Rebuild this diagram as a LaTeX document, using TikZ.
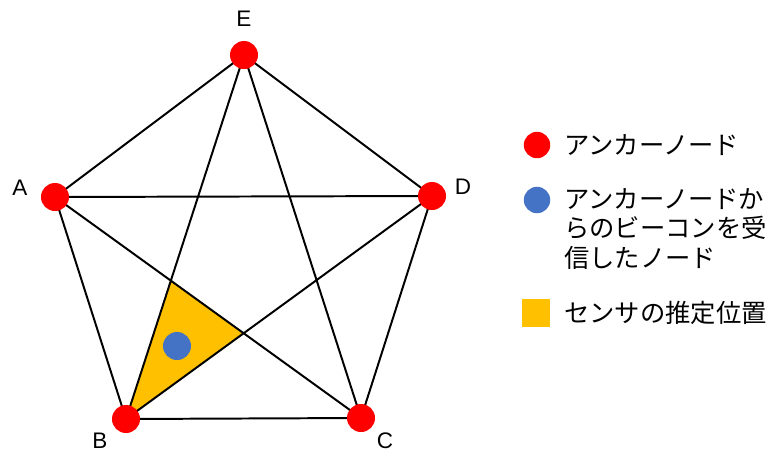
\documentclass[tikz,border=0pt]{standalone}
\usepackage{fontspec}
\setmainfont{Liberation Sans}
\newfontfamily\jpfont{Noto Sans CJK JP}
\usetikzlibrary{positioning}

\definecolor{anchorred}{RGB}{255,0,0}
\definecolor{beaconblue}{RGB}{68,114,196}
\definecolor{estyellow}{RGB}{255,192,0}

\begin{document}
\begin{tikzpicture}[x=0.025cm, y=-0.025cm,
  anchornode/.style={circle, fill=anchorred, minimum size=0.7cm, inner sep=0pt},
  beaconnode/.style={circle, fill=beaconblue, minimum size=0.7cm, inner sep=0pt},
  link/.style={line width=1.4pt, black},
  letter/.style={font=\fontsize{16}{19}\selectfont, inner sep=0pt},
  keytext/.style={font=\jpfont\fontsize{18}{20.8}\selectfont, anchor=west, align=left, inner sep=0pt}]
\useasboundingbox (0,0) rectangle (770,455);
% anchor positions
\coordinate (A) at (55,197);
\coordinate (B) at (126,419);
\coordinate (C) at (361,418);
\coordinate (D) at (432,196);
\coordinate (E) at (244,55);
% estimated sensor area
\fill[estyellow] (B) -- (intersection of E--B and A--C) -- (intersection of B--D and A--C) -- cycle;
% links between all anchors
\draw[link] (A) -- (E) -- (D) -- (C) -- (B) -- (A);
\draw[link] (A) -- (D) (A) -- (C) (E) -- (B) (E) -- (C) (B) -- (D);
% anchor nodes
\foreach \n in {A,B,C,D,E}
  \node[anchornode] (n\n) at (\n) {};
\node[beaconnode] (sensor) at (177,346) {};
% names
\node[letter] (labE) at (244,19) {E};
\node[letter] (labA) at (20,188) {A};
\node[letter] (labD) at (463,187) {D};
\node[letter] (labB) at (100,441) {B};
\node[letter] (labC) at (385,441) {C};
% legend
\node[anchornode, minimum size=0.66cm] (keyanchor) at (537,145) {};
\node[keytext] (keyanchortext) at (564,145) {アンカーノード};
\node[beaconnode, minimum size=0.66cm] (keybeacon) at (537,200) {};
\node[keytext] (keybeacontext) at (564,229) {アンカーノードか\\らのビーコンを受\\信したノード};
\node[fill=estyellow, minimum size=0.68cm, inner sep=0pt] (keyarea) at (536,313) {};
\node[keytext] (keyareatext) at (564,313) {センサの推定位置};
\end{tikzpicture}
\end{document}
